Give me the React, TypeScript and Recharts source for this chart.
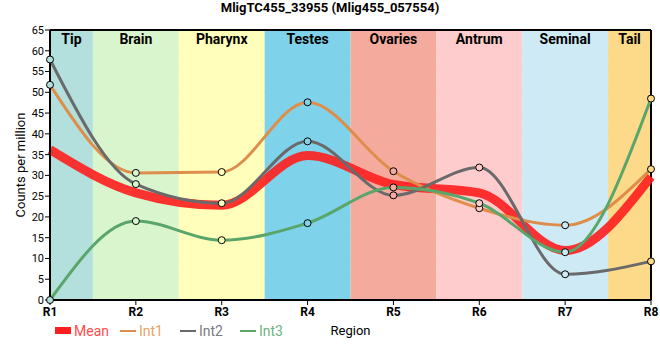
import React from 'react';
import { LineChart, Line, XAxis, YAxis, CartesianGrid, ReferenceArea, ReferenceLine } from 'recharts';

const categories = ['R1', 'R2', 'R3', 'R4', 'R5', 'R6', 'R7', 'R8'];
const positions = [1, 2, 3, 4, 5, 6, 7, 8];
const meanValues = [36.2, 25.8, 22.8, 34.8, 27.8, 25.8, 11.9, 29.7];
const int1Values = [51.8, 30.6, 30.8, 47.6, 31.0, 22.1, 18.0, 31.5];
const int2Values = [57.9, 27.9, 23.3, 38.2, 25.2, 31.9, 6.2, 9.3];
const int3Values = [0, 19.0, 14.4, 18.5, 27.1, 23.3, 11.5, 48.5];

const bandNames = ['Tip', 'Brain', 'Pharynx', 'Testes', 'Ovaries', 'Antrum', 'Seminal', 'Tail'];
const bandStart = [1, 1.5, 2.5, 3.5, 4.5, 5.5, 6.5, 7.5];
const bandEnd = [1.5, 2.5, 3.5, 4.5, 5.5, 6.5, 7.5, 8];
const yTicks = [0, 5, 10, 15, 20, 25, 30, 35, 40, 45, 50, 55, 60, 65];

const title = 'MligTC455_33955 (Mlig455_057554)';
const yLabel = 'Counts per million';
const xLabel = 'Region';
const legendNames = ['Mean', 'Int1', 'Int2', 'Int3'];

const bandColors = ['#b3e0dc', '#d8f5ce', '#ffffbb', '#7ed3ea', '#f5aa9e', '#ffccce', '#ceeaf4', '#fcda8a'];
const FONT = 'Roboto, "Liberation Sans", Arial, sans-serif';
const MEAN_COLOR = '#ff1e1e';
const INT1_COLOR = '#de8e4a';
const INT2_COLOR = '#6a6a6a';
const INT3_COLOR = '#5aa56a';

const data = positions.map((x, i) => ({
  x,
  label: categories[i],
  mean: meanValues[i],
  int1: int1Values[i],
  int2: int2Values[i],
  int3: int3Values[i],
}));

const makeDot = (name: string) => (props: any) => {
  const { cx, cy, index } = props;
  return (
    <circle
      key={`dot-${name}-${index}`}
      cx={cx}
      cy={cy}
      r={3.5}
      fill={bandColors[index]}
      stroke="#000"
      strokeWidth={1}
    />
  );
};

const YLabel = () => (
  <text
    x={20}
    y={165}
    transform="rotate(-90, 20, 165)"
    textAnchor="middle"
    dominantBaseline="central"
    fontFamily={FONT}
    fontSize={13}
    fill="#000"
  >
    {yLabel}
  </text>
);

export default function App() {
  return (
    <div style={{ position: 'fixed', left: 0, top: 0, width: 660, height: 360, fontFamily: FONT, background: '#fff' }}>
      <LineChart
        width={660}
        height={360}
        data={data}
        margin={{ top: 30, right: 9, left: 0, bottom: 20 }}
      >
        {bandNames.map((name, i) => (
          <ReferenceArea
            key={name}
            x1={bandStart[i]}
            x2={bandEnd[i]}
            y1={0}
            y2={65}
            fill={bandColors[i]}
            fillOpacity={1}
            stroke="none"
            label={{
              value: name,
              position: 'insideTop',
              offset: 4,
              fontFamily: FONT,
              fontWeight: 'bold',
              fontSize: 14,
              fill: '#000',
            }}
          />
        ))}
        <CartesianGrid stroke="#c8c8c8" strokeWidth={1} />
        <XAxis
          type="number"
          dataKey="x"
          domain={[1, 8]}
          ticks={positions}
          interval={0}
          tickFormatter={(v: number) => categories[positions.indexOf(v)]}
          allowDecimals={false}
          height={40}
          tickSize={5}
          axisLine={{ stroke: '#000', strokeWidth: 2 }}
          tickLine={{ stroke: '#000' }}
          tick={{ fill: '#000', fontFamily: FONT, fontWeight: 'bold', fontSize: 12 }}
          label={{ value: xLabel, position: 'insideBottom', offset: 5, fontFamily: FONT, fontSize: 13, fill: '#000' }}
        />
        <YAxis
          type="number"
          domain={[0, 65]}
          ticks={yTicks}
          interval={0}
          width={50}
          tickSize={5}
          tickMargin={1}
          axisLine={{ stroke: '#000', strokeWidth: 2 }}
          tickLine={{ stroke: '#000' }}
          tick={{ fill: '#000', fontFamily: FONT, fontSize: 11 }}
          label={<YLabel />}
        />
        <ReferenceLine y={65} stroke="#000" strokeWidth={2} />
        <ReferenceLine x={8} stroke="#000" strokeWidth={2} />
        <Line
          type="monotone"
          dataKey="mean"
          stroke={MEAN_COLOR}
          strokeOpacity={0.9}
          strokeWidth={9}
          dot={false}
          activeDot={false}
          isAnimationActive={false}
        />
        <Line
          type="monotone"
          dataKey="int1"
          stroke={INT1_COLOR}
          strokeWidth={3}
          dot={makeDot('int1')}
          activeDot={false}
          isAnimationActive={false}
        />
        <Line
          type="monotone"
          dataKey="int2"
          stroke={INT2_COLOR}
          strokeWidth={3}
          dot={makeDot('int2')}
          activeDot={false}
          isAnimationActive={false}
        />
        <Line
          type="monotone"
          dataKey="int3"
          stroke={INT3_COLOR}
          strokeWidth={3}
          dot={makeDot('int3')}
          activeDot={false}
          isAnimationActive={false}
        />
      </LineChart>
      <div
        style={{
          position: 'absolute',
          zIndex: 10,
          top: 0,
          left: 0,
          width: 660,
          textAlign: 'center',
          fontWeight: 'bold',
          fontSize: 13,
          lineHeight: '16px',
          color: '#000',
          whiteSpace: 'nowrap',
        }}
      >
        {title}
      </div>
      <div style={{ position: 'absolute', zIndex: 10, top: 322, left: 8, height: 18, width: 300 }}>
        <div style={{ position: 'absolute', left: 47, top: 5, width: 16, height: 7, background: MEAN_COLOR }} />
        <div style={{ position: 'absolute', left: 66, top: 0, fontSize: 14, lineHeight: '18px', color: '#ff4d4d' }}>{legendNames[0]}</div>
        <div style={{ position: 'absolute', left: 112, top: 8, width: 16, height: 2, background: INT1_COLOR }} />
        <div style={{ position: 'absolute', left: 131, top: 0, fontSize: 14, lineHeight: '18px', color: '#e8a266' }}>{legendNames[1]}</div>
        <div style={{ position: 'absolute', left: 172, top: 8, width: 16, height: 2, background: INT2_COLOR }} />
        <div style={{ position: 'absolute', left: 191, top: 0, fontSize: 14, lineHeight: '18px', color: '#7a7a84' }}>{legendNames[2]}</div>
        <div style={{ position: 'absolute', left: 232, top: 8, width: 16, height: 2, background: INT3_COLOR }} />
        <div style={{ position: 'absolute', left: 251, top: 0, fontSize: 14, lineHeight: '18px', color: '#6db37e' }}>{legendNames[3]}</div>
      </div>
    </div>
  );
}
